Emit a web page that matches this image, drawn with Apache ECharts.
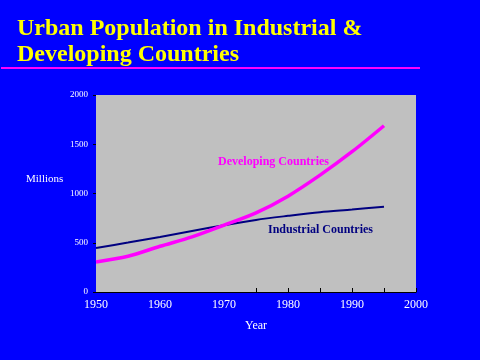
<!DOCTYPE html>
<html>
<head>
<meta charset="utf-8">
<script src="https://cdn.jsdelivr.net/npm/echarts@6/dist/echarts.min.js"></script>
<style>
html, body { margin: 0; padding: 0; background: #0000FF; }
#chart { width: 480px; height: 360px; }
</style>
</head>
<body>
<div id="chart"></div>
<script>
var years = ['1950', '1955', '1960', '1965', '1970', '1975', '1980', '1985', '1990', '1995', '2000'];
var industrial = [447, 502, 559, 620, 678, 732, 773, 810, 837, 866];
var developing = [305, 363, 464, 559, 678, 803, 973, 1186, 1424, 1688];
var yTicks = [0, 500, 1000, 1500, 2000];

var chart = echarts.init(document.getElementById('chart'));

var option = {
    backgroundColor: '#0000FF',
    animation: false,
    title: {
        text: 'Urban Population in Industrial &\nDeveloping Countries',
        left: 12,
        top: 11,
        textStyle: {
            color: '#FFFF00',
            fontFamily: 'Liberation Serif',
            fontWeight: 'bold',
            fontSize: 24,
            lineHeight: 26
        }
    },
    grid: {
        left: 96,
        right: 64,
        top: 95,
        bottom: 68,
        show: true,
        backgroundColor: '#C0C0C0',
        borderWidth: 0
    },
    xAxis: {
        type: 'category',
        data: years,
        boundaryGap: false,
        name: 'Year',
        nameLocation: 'middle',
        nameGap: 28,
        nameTextStyle: { color: '#FFFFFF', fontFamily: 'Liberation Serif', fontSize: 12 },
        axisLine: { lineStyle: { color: '#000000', width: 1 } },
        axisTick: {
            inside: true,
            length: 4,
            lineStyle: { color: '#000000' },
            interval: function (i) { return i >= 5; }
        },
        axisLabel: {
            interval: 1,
            color: '#FFFFFF',
            fontFamily: 'Liberation Serif',
            fontSize: 12,
            margin: 7
        },
        splitLine: { show: false }
    },
    yAxis: {
        type: 'value',
        min: yTicks[0],
        max: yTicks[yTicks.length - 1],
        interval: 500,
        axisLine: { show: false },
        axisTick: { show: true, length: 3, lineStyle: { color: '#000000' } },
        axisLabel: {
            color: '#FFFFFF',
            fontFamily: 'Liberation Serif',
            fontSize: 9,
            margin: 8,
            formatter: function (v) { return String(v); }
        },
        splitLine: { show: false }
    },
    series: [
        {
            name: 'Industrial Countries',
            type: 'line',
            data: industrial,
            smooth: 0.3,
            symbol: 'none',
            lineStyle: { color: '#000080', width: 2 }
        },
        {
            name: 'Developing Countries',
            type: 'line',
            data: developing,
            smooth: 0.3,
            symbol: 'none',
            lineStyle: { color: '#FF00FF', width: 3.5 }
        }
    ],
    graphic: [
        {
            type: 'rect',
            shape: { x: 1, y: 67, width: 419, height: 2 },
            style: { fill: '#FF00FF' }
        },
        {
            type: 'text',
            left: 26,
            top: 174,
            style: {
                text: 'Millions',
                fill: '#FFFFFF',
                font: '11px "Liberation Serif"'
            }
        },
        {
            type: 'text',
            left: 218,
            top: 156,
            style: {
                text: 'Developing Countries',
                fill: '#FF00FF',
                font: 'bold 12px "Liberation Serif"'
            }
        },
        {
            type: 'text',
            left: 268,
            top: 224,
            style: {
                text: 'Industrial Countries',
                fill: '#000080',
                font: 'bold 12px "Liberation Serif"'
            }
        }
    ]
};

chart.setOption(option);
</script>
</body>
</html>
